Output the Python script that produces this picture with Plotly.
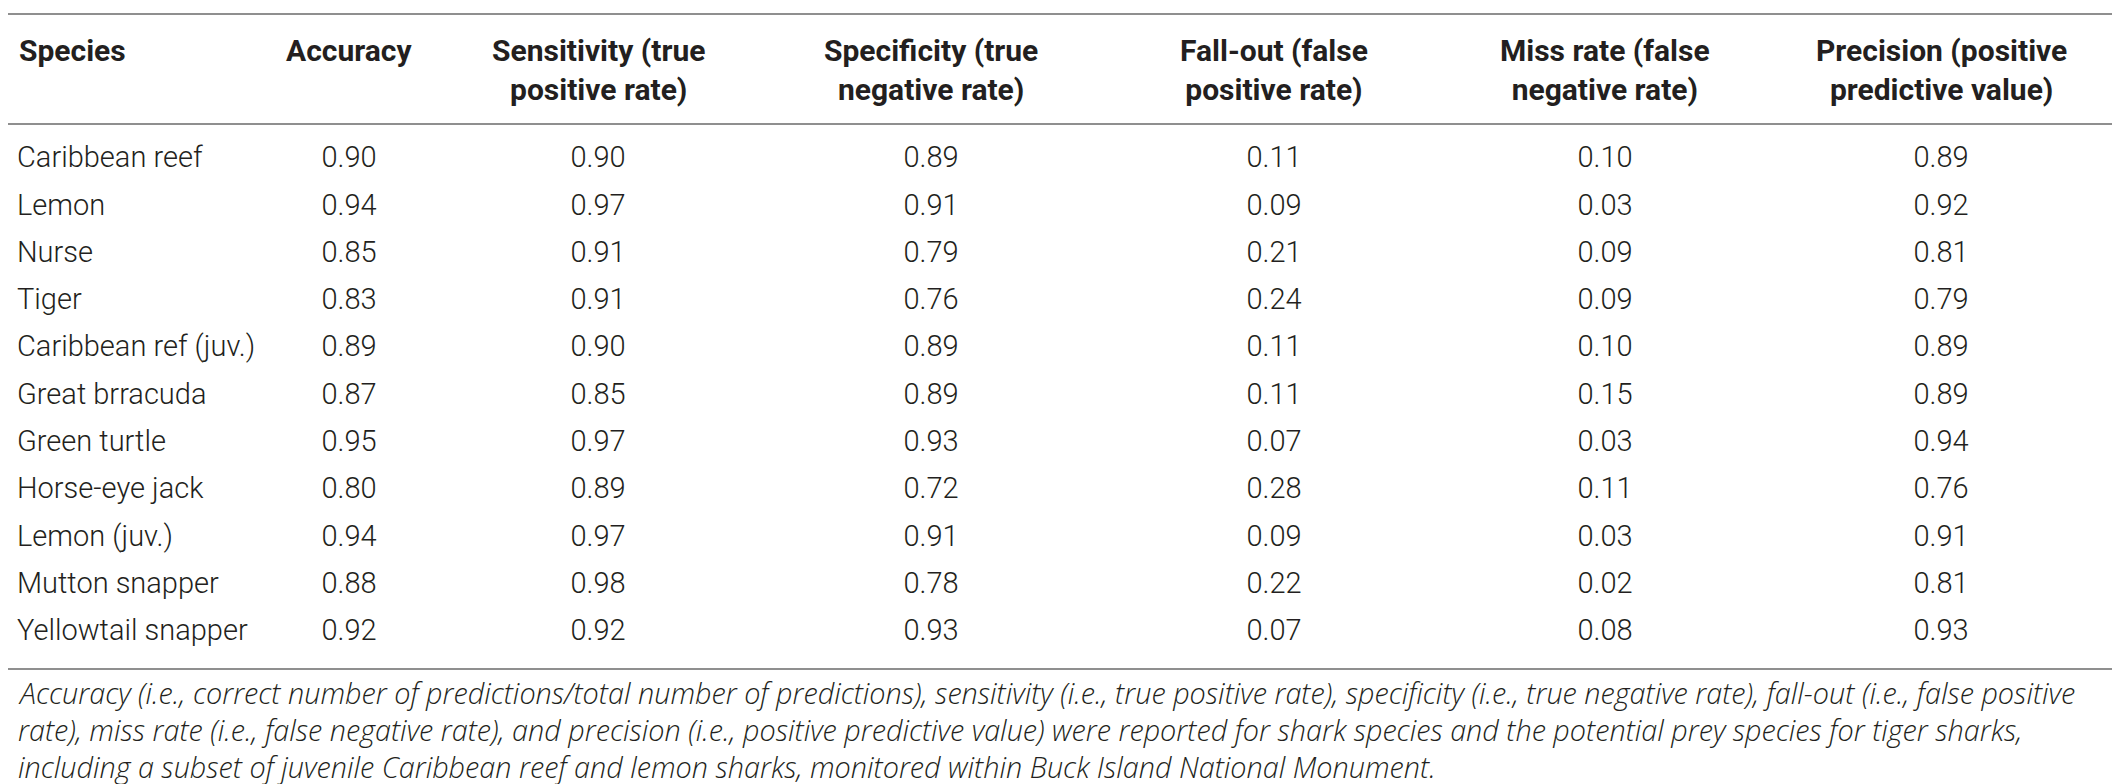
import plotly.graph_objects as go

species = ["Caribbean reef", "Lemon", "Nurse", "Tiger", "Caribbean ref (juv.)",
           "Great brracuda", "Green turtle", "Horse-eye jack", "Lemon (juv.)",
           "Mutton snapper", "Yellowtail snapper"]
accuracy = [0.90, 0.94, 0.85, 0.83, 0.89, 0.87, 0.95, 0.80, 0.94, 0.88, 0.92]
sensitivity = [0.90, 0.97, 0.91, 0.91, 0.90, 0.85, 0.97, 0.89, 0.97, 0.98, 0.92]
specificity = [0.89, 0.91, 0.79, 0.76, 0.89, 0.89, 0.93, 0.72, 0.91, 0.78, 0.93]
fall_out = [0.11, 0.09, 0.21, 0.24, 0.11, 0.11, 0.07, 0.28, 0.09, 0.22, 0.07]
miss_rate = [0.10, 0.03, 0.09, 0.09, 0.10, 0.15, 0.03, 0.11, 0.03, 0.02, 0.08]
precision = [0.89, 0.92, 0.81, 0.79, 0.89, 0.89, 0.94, 0.76, 0.91, 0.81, 0.93]

headers = ["Accuracy", "Sensitivity (true<br>positive rate)",
           "Specificity (true<br>negative rate)", "Fall-out (false<br>positive rate)",
           "Miss rate (false<br>negative rate)", "Precision (positive<br>predictive value)"]

footnote = [
    "Accuracy (i.e., correct number of predictions/total number of predictions), sensitivity (i.e., true positive rate), specificity (i.e., true negative rate), fall-out (i.e., false positive",
    "rate), miss rate (i.e., false negative rate), and precision (i.e., positive predictive value) were reported for shark species and the potential prey species for tiger sharks,",
    "including a subset of juvenile Caribbean reef and lemon sharks, monitored within Buck Island National Monument.",
]

W, H = 2120, 784
col_x = [341, 590, 923, 1266, 1597, 1933]
left_x = 9
row0, row_step = 152, 47.3
ink = "#231f20"
rule = "#8f8f8f"
body = dict(family="Roboto, Liberation Sans, sans-serif", size=29, color=ink, weight=300)
bold = dict(family="Roboto, Liberation Sans, sans-serif", size=30, color=ink, weight=700)
note_font = dict(family="Open Sans, Roboto, sans-serif", size=28.8, color=ink,
                 weight=300, style="italic")


def paper(py):
    return 1 - py / H


fig = go.Figure()

fig.add_trace(go.Scatter(x=[left_x] * len(species), y=species, mode="text",
                         text=species, textposition="middle right", textfont=body,
                         hoverinfo="skip"))

for cx, vals in zip(col_x, [accuracy, sensitivity, specificity, fall_out, miss_rate, precision]):
    fig.add_trace(go.Scatter(x=[cx] * len(vals), y=species, mode="text",
                             text=[f"{v:.2f}" for v in vals], textposition="middle center",
                             textfont=body, hoverinfo="skip"))

# header: first lines share the same top line
fig.add_annotation(x=left_x, y=paper(43), xref="x", yref="paper", text="Species",
                   showarrow=False, xanchor="left", yanchor="middle", font=bold)
for cx, h in zip(col_x, headers):
    hy = 62.5 if "<br>" in h else 43
    fig.add_annotation(x=cx, y=paper(hy), xref="x", yref="paper", text=h,
                       showarrow=False, xanchor="center", yanchor="middle",
                       align="center", font=bold)

for py, line in zip([684, 721, 758], footnote):
    fig.add_annotation(x=left_x - 1, y=paper(py), xref="x", yref="paper", text=line,
                       showarrow=False, xanchor="left", yanchor="middle", font=note_font)

for py in [6, 116, 661]:
    fig.add_shape(type="line", x0=0, x1=2114, y0=paper(py), y1=paper(py),
                  xref="x", yref="paper", line=dict(color=rule, width=2))

fig.update_xaxes(range=[0, W], visible=False, fixedrange=True)
fig.update_yaxes(type="category", categoryarray=species,
                 range=[(H - row0) / row_step, -row0 / row_step],
                 visible=False, fixedrange=True)
fig.update_layout(width=W, height=H, margin=dict(l=0, r=0, t=0, b=0),
                  paper_bgcolor="white", plot_bgcolor="white", showlegend=False,
                  hovermode=False)

fig.write_html("out.html")
